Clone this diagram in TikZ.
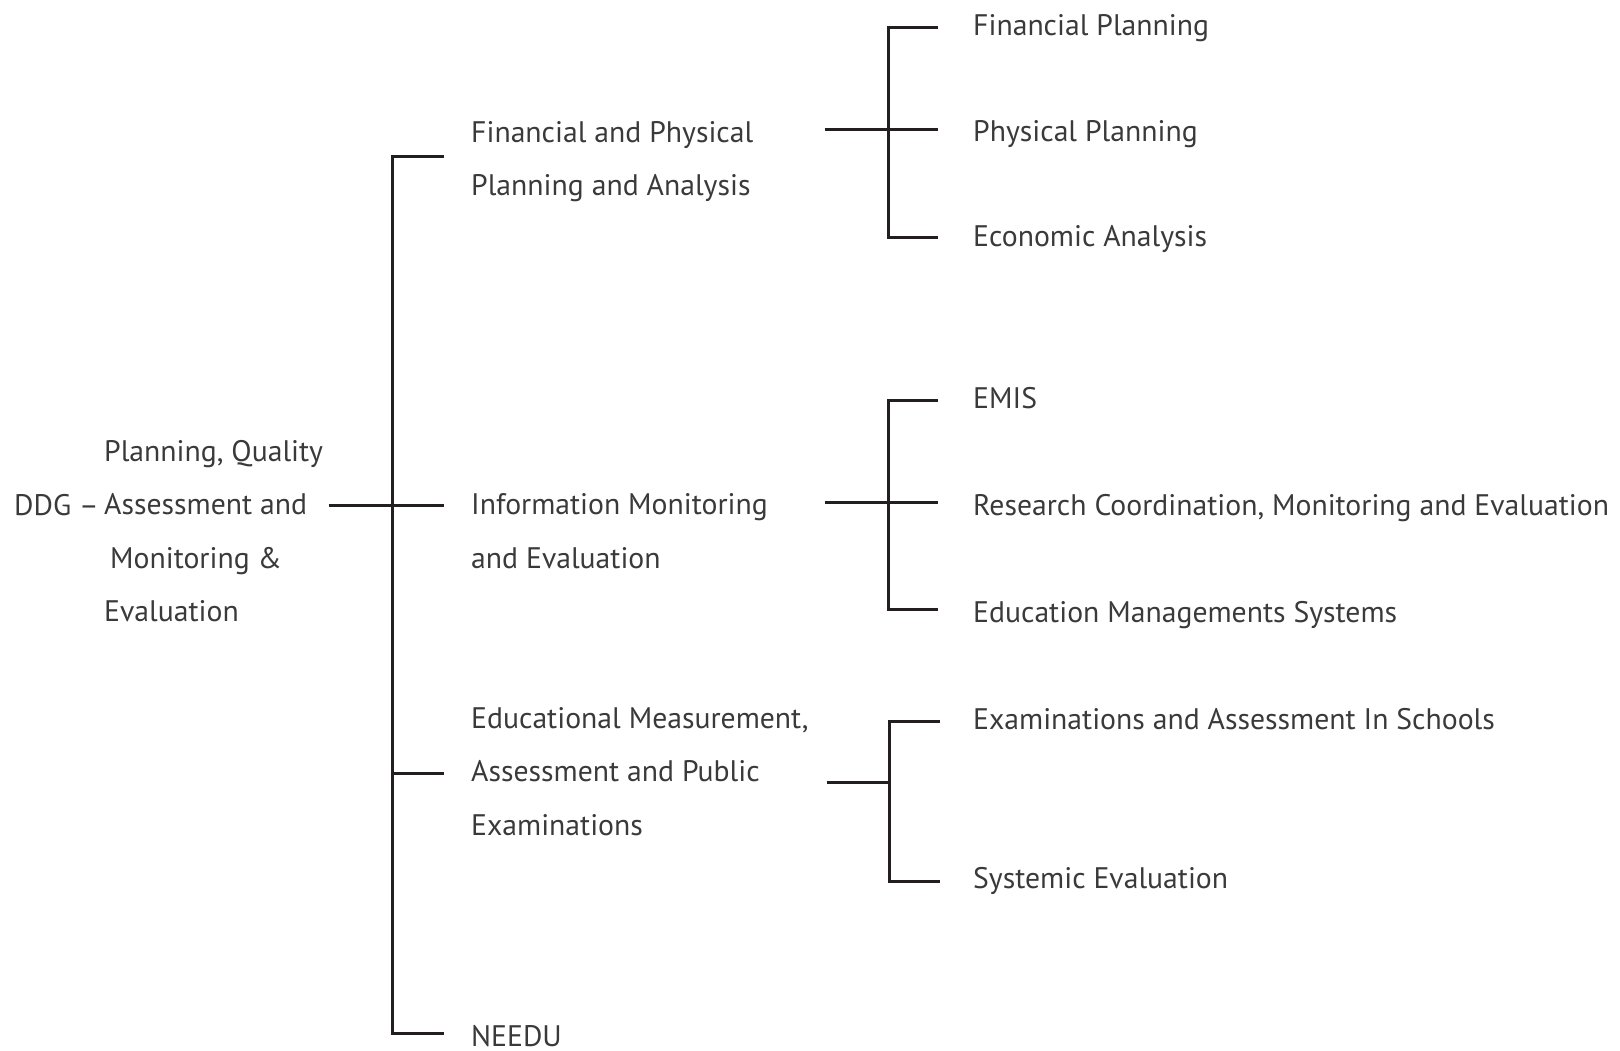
\documentclass[tikz,border=0pt]{standalone}
\usepackage{fontspec}
\setmainfont{PT Sans}
\usepackage{xcolor}
\usepackage{tikz}

\definecolor{inkline}{HTML}{231F20}
\definecolor{inktext}{HTML}{3A3A3A}

\tikzset{
  tree/.style={line width=3pt,draw=inkline},
  unit/.style={anchor=base west,inner sep=0pt,text=inktext,align=left,
    font=\fontsize{29.7}{53.4}\selectfont},
}

\begin{document}
\begin{tikzpicture}[x=1pt,y=-1pt]
\useasboundingbox (0,0) rectangle (1620,1051);

% directorate (base = last line)
\node[unit] (ddg) at (14,515) {DDG --};
\node[unit] (pqa) at (104,621.5) {Planning, Quality\\Assessment and\\\hspace*{6pt}Monitoring \&\\Evaluation};

% spine
\coordinate (top) at (392,157);
\coordinate (mid) at (392,505);
\coordinate (low) at (392,773);
\coordinate (bot) at (392,1033);

\node[unit] (fpa) at (471,195.5) {Financial and Physical\\Planning and Analysis};
\node[unit] (ime) at (471,568) {Information Monitoring\\and Evaluation};
\node[unit] (ema) at (471,835) {Educational Measurement,\\Assessment and Public\\Examinations};
\node[unit,text depth=0pt] (needu) at (471,1046.5) {NEEDU};

\draw[tree] (444,157) -- (top) -- (bot) -- (444,1033);
\draw[tree] (328.5,505) -- (mid) -- (444,505);
\draw[tree] (low) -- (444,773);

% first group
\coordinate (g1) at (888.5,130);
\node[unit] (fp) at (973,36) {Financial Planning};
\node[unit] (pp) at (973,142) {Physical Planning};
\node[unit] (ea) at (973,246.5) {Economic Analysis};
\draw[tree] (938,28) -- (888.5,28) -- (888.5,238) -- (938,238);
\draw[tree] (824.5,130) -- (g1) -- (938,130);

% second group
\coordinate (g2) at (888.5,502);
\node[unit] (emis) at (973,408.3) {EMIS};
\node[unit] (rcme) at (973,515) {Research Coordination, Monitoring and Evaluation};
\node[unit] (ems) at (973,622) {Education Managements Systems};
\draw[tree] (938,400) -- (888.5,400) -- (888.5,609.6) -- (938,609.6);
\draw[tree] (824.5,502) -- (g2) -- (938,502);

% third group
\coordinate (g3) at (889.6,782);
\node[unit] (eas) at (973,729.3) {Examinations and Assessment In Schools};
\node[unit] (se) at (973,888.5) {Systemic Evaluation};
\draw[tree] (940,721) -- (889.6,721) -- (889.6,881.5) -- (940,881.5);
\draw[tree] (826.6,782) -- (g3);
\end{tikzpicture}
\end{document}
